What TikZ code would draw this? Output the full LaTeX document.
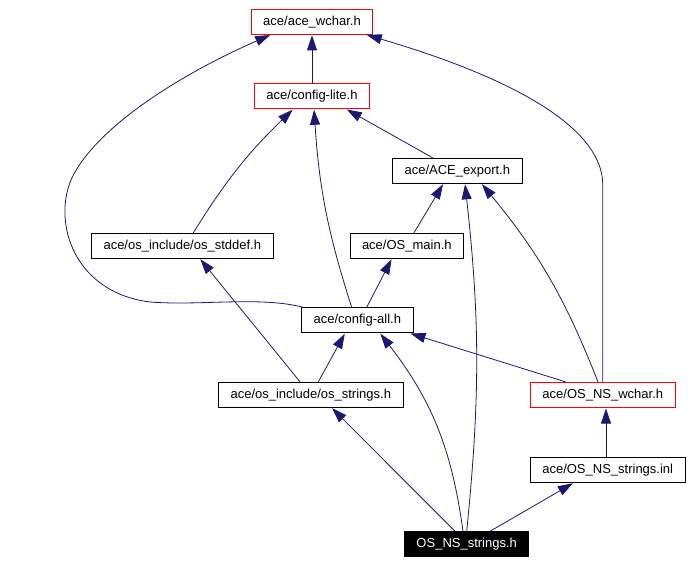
\documentclass[tikz,border=0pt]{standalone}
\usepackage{fontspec}
\setmainfont{Liberation Sans}
\usetikzlibrary{positioning,shapes,arrows.meta}
\definecolor{edgeblue}{RGB}{25,25,112}
\tikzset{hdr/.style={draw,rectangle,line width=1pt,inner xsep=12pt,inner ysep=2pt,minimum height=25pt,font=\fontsize{13}{15}\selectfont},
  redhdr/.style={hdr,draw=red},
  mainhdr/.style={hdr,fill=black,text=white},
  inc/.style={draw=edgeblue,line width=0.8pt,-{Triangle[length=15pt,width=10pt]},shorten >=0.5pt}}

\begin{document}
\begin{tikzpicture}[x=1pt,y=-1pt]
\useasboundingbox (0,0) rectangle (694,564);
\node[redhdr] (wchar) at (312,21.8) {ace/ace\_wchar.h};
\node[redhdr] (lite) at (312,96.3) {ace/config-lite.h};
\node[hdr] (export) at (457.3,170.8) {ace/ACE\_export.h};
\node[hdr] (stddef) at (182.3,245.8) {ace/os\_include/os\_stddef.h};
\node[hdr] (osmain) at (406.8,245.8) {ace/OS\_main.h};
\node[hdr] (all) at (357.3,320.3) {ace/config-all.h};
\node[hdr] (strings) at (310.8,394.8) {ace/os\_include/os\_strings.h};
\node[redhdr] (nswchar) at (602.8,395) {ace/OS\_NS\_wchar.h};
\node[hdr] (inl) at (607.7,470) {ace/OS\_NS\_strings.inl};
\node[mainhdr] (main) at (466.7,544.3) {OS\_NS\_strings.h};

% edges to ace_wchar.h
\draw[inc] (lite) -- (wchar);
\draw[inc] ([xshift=2pt]all.north west) .. controls (260,296) and (200,306) .. (150,302)
  .. controls (70,292) and (50,215) .. (75,172)
  .. controls (105,120) and (190,70) .. ([xshift=20pt]wchar.south west);
\draw[inc] (nswchar.north) -- (602.8,185) .. controls (602.8,130) and (520,80) .. ([xshift=-7pt]wchar.south east);
% edges to config-lite.h
\draw[inc] ([xshift=-24.6pt]export.north) -- ([xshift=34.4pt]lite.south);
\draw[inc] ([xshift=11pt]stddef.north) to[bend left=7] ([xshift=-19pt]lite.south);
\draw[inc] ([xshift=-5.6pt]all.north) to[bend left=7] ([xshift=2pt]lite.south);
% edges to ACE_export.h
\draw[inc] ([xshift=7.2pt]osmain.north) -- ([xshift=-14pt]export.south);
\draw[inc] (main.north) to[bend right=6] ([xshift=7.7pt]export.south);
\draw[inc] ([xshift=-4.8pt]nswchar.north) to[bend right=9] ([xshift=24.4pt]export.south);
% edges to config-all.h
\draw[inc] ([xshift=9.4pt]all.north) -- ([xshift=-15pt]osmain.south);
\draw[inc] ([xshift=-36.8pt]nswchar.north) -- ([xshift=52.7pt]all.south);
\draw[inc] ([xshift=7.5pt]strings.north) -- ([xshift=-12.3pt]all.south);
\draw[inc] ([xshift=-3.7pt]main.north) to[bend right=15] ([xshift=22.7pt]all.south);
% lower edges
\draw[inc] ([xshift=-11.7pt]main.north) -- ([xshift=20.9pt]strings.south);
\draw[inc] ([xshift=-10.8pt]strings.north) -- ([xshift=17.7pt]stddef.south);
\draw[inc] ([xshift=23.3pt]main.north) -- ([xshift=-34.4pt]inl.south);
\draw[inc] ([xshift=-1.7pt]inl.north) -- ([xshift=3.2pt]nswchar.south);
\end{tikzpicture}
\end{document}
